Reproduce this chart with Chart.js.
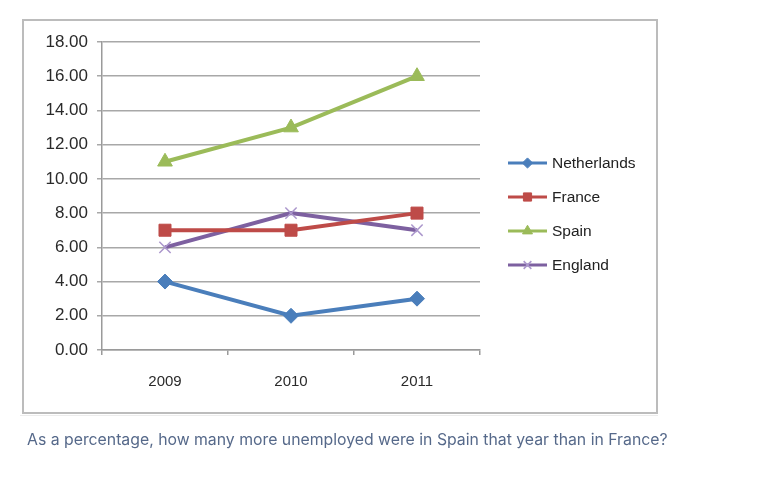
<!DOCTYPE html>
<html>
<head>
<meta charset="utf-8">
<script src="https://cdn.jsdelivr.net/npm/chart.js@4"></script>
<style>
  html,body{margin:0;padding:0;background:#fff;width:768px;height:482px;overflow:hidden;}
  #wrap{position:absolute;left:0;top:0;width:768px;height:420px;}
  #frame{position:absolute;left:22px;top:19px;width:632px;height:391px;border:2px solid #bcbcbc;box-sizing:content-box;pointer-events:none;}
  #sep{position:absolute;left:20px;top:415px;width:638px;height:1px;background:#ececec;}
  #q{position:absolute;left:27px;top:430px;font-family:Inter,"Noto Sans",sans-serif;font-size:15.8px;color:#56698a;white-space:nowrap;}
</style>
</head>
<body>
<div id="wrap"><canvas id="c" width="768" height="420"></canvas></div>
<div id="frame"></div>
<div id="sep"></div>
<div id="q">As a percentage, how many more unemployed were in Spain that year than in France?</div>
<script>
const years = ["2009", "2010", "2011"];
const netherlands = [4, 2, 3];
const france = [7, 7, 8];
const spain = [11, 13, 16];
const england = [6, 8, 7];
const yTicks = [0, 2, 4, 6, 8, 10, 12, 14, 16, 18];

const legendPlugin = {
  id: 'sideLegend',
  afterDraw(chart) {
    const ctx = chart.ctx;
    const x0 = 508, x1 = 547, tx = 552, y0 = 163, dy = 34;
    chart.data.datasets.forEach((ds, i) => {
      const y = y0 + i * dy;
      ctx.save();
      ctx.strokeStyle = ds.borderColor;
      ctx.lineWidth = 3;
      ctx.beginPath(); ctx.moveTo(x0, y); ctx.lineTo(x1, y); ctx.stroke();
      ctx.fillStyle = ds.pointBackgroundColor;
      ctx.strokeStyle = ds.pointBorderColor;
      ctx.lineWidth = ds.pointBorderWidth;
      Chart.helpers.drawPoint(ctx, {
        pointStyle: ds.pointStyle,
        radius: ds.pointRadius * 0.68,
        borderWidth: ds.pointBorderWidth,
        rotation: 0
      }, (x0 + x1) / 2, y);
      ctx.fillStyle = '#222';
      ctx.font = '15.5px "Liberation Sans"';
      ctx.textBaseline = 'middle';
      ctx.textAlign = 'left';
      ctx.fillText(ds.label, tx, y + 1);
      ctx.restore();
    });
  }
};

function ds(label, data, color, style, radius, ptColor, ptBorderW) {
  return {
    label, data,
    borderColor: color,
    backgroundColor: color,
    borderWidth: 4,
    pointStyle: style,
    pointRadius: radius,
    pointHoverRadius: radius,
    pointBackgroundColor: ptColor || color,
    pointBorderColor: ptColor || color,
    pointBorderWidth: ptBorderW || 1,
    tension: 0,
    clip: false
  };
}

new Chart(document.getElementById('c'), {
  type: 'line',
  data: {
    labels: years,
    datasets: [
      ds('Netherlands', netherlands, '#4a7ebb', 'rectRot', 7.5),
      ds('France', france, '#be4b48', 'rect', 8.5),
      ds('Spain', spain, '#9bbb59', 'triangle', 8.5),
      ds('England', england, '#7d60a0', 'crossRot', 8, '#ab97cc', 1.5)
    ]
  },
  options: {
    responsive: false,
    animation: false,
    devicePixelRatio: 1,
    layout: { padding: { top: 42, right: 288, bottom: 10, left: 0 } },
    plugins: { legend: { display: false }, tooltip: { enabled: false } },
    scales: {
      x: {
        type: 'category',
        offset: true,
        afterFit(s) { s.height = 60; },
        grid: { display: true, drawOnChartArea: false, drawTicks: true, tickLength: 5, offset: true, color: '#9a9a9a', lineWidth: 1.5 },
        border: { display: true, color: '#9a9a9a', width: 1.5 },
        ticks: { color: '#2a2a2a', font: { family: 'Liberation Sans', size: 15 }, padding: 18 }
      },
      y: {
        min: 0, max: 18,
        afterFit(s) { s.width = 102; },
        afterBuildTicks(s) { s.ticks = yTicks.map(v => ({ value: v })); },
        grid: { color: '#a8a8a8', lineWidth: 1.5, tickLength: 5, drawTicks: true },
        border: { display: true, color: '#9a9a9a', width: 1.5 },
        ticks: { color: '#2a2a2a', font: { family: 'Liberation Sans', size: 17 }, padding: 9, callback: v => Number(v).toFixed(2) }
      }
    }
  },
  plugins: [legendPlugin]
});
</script>
</body>
</html>
